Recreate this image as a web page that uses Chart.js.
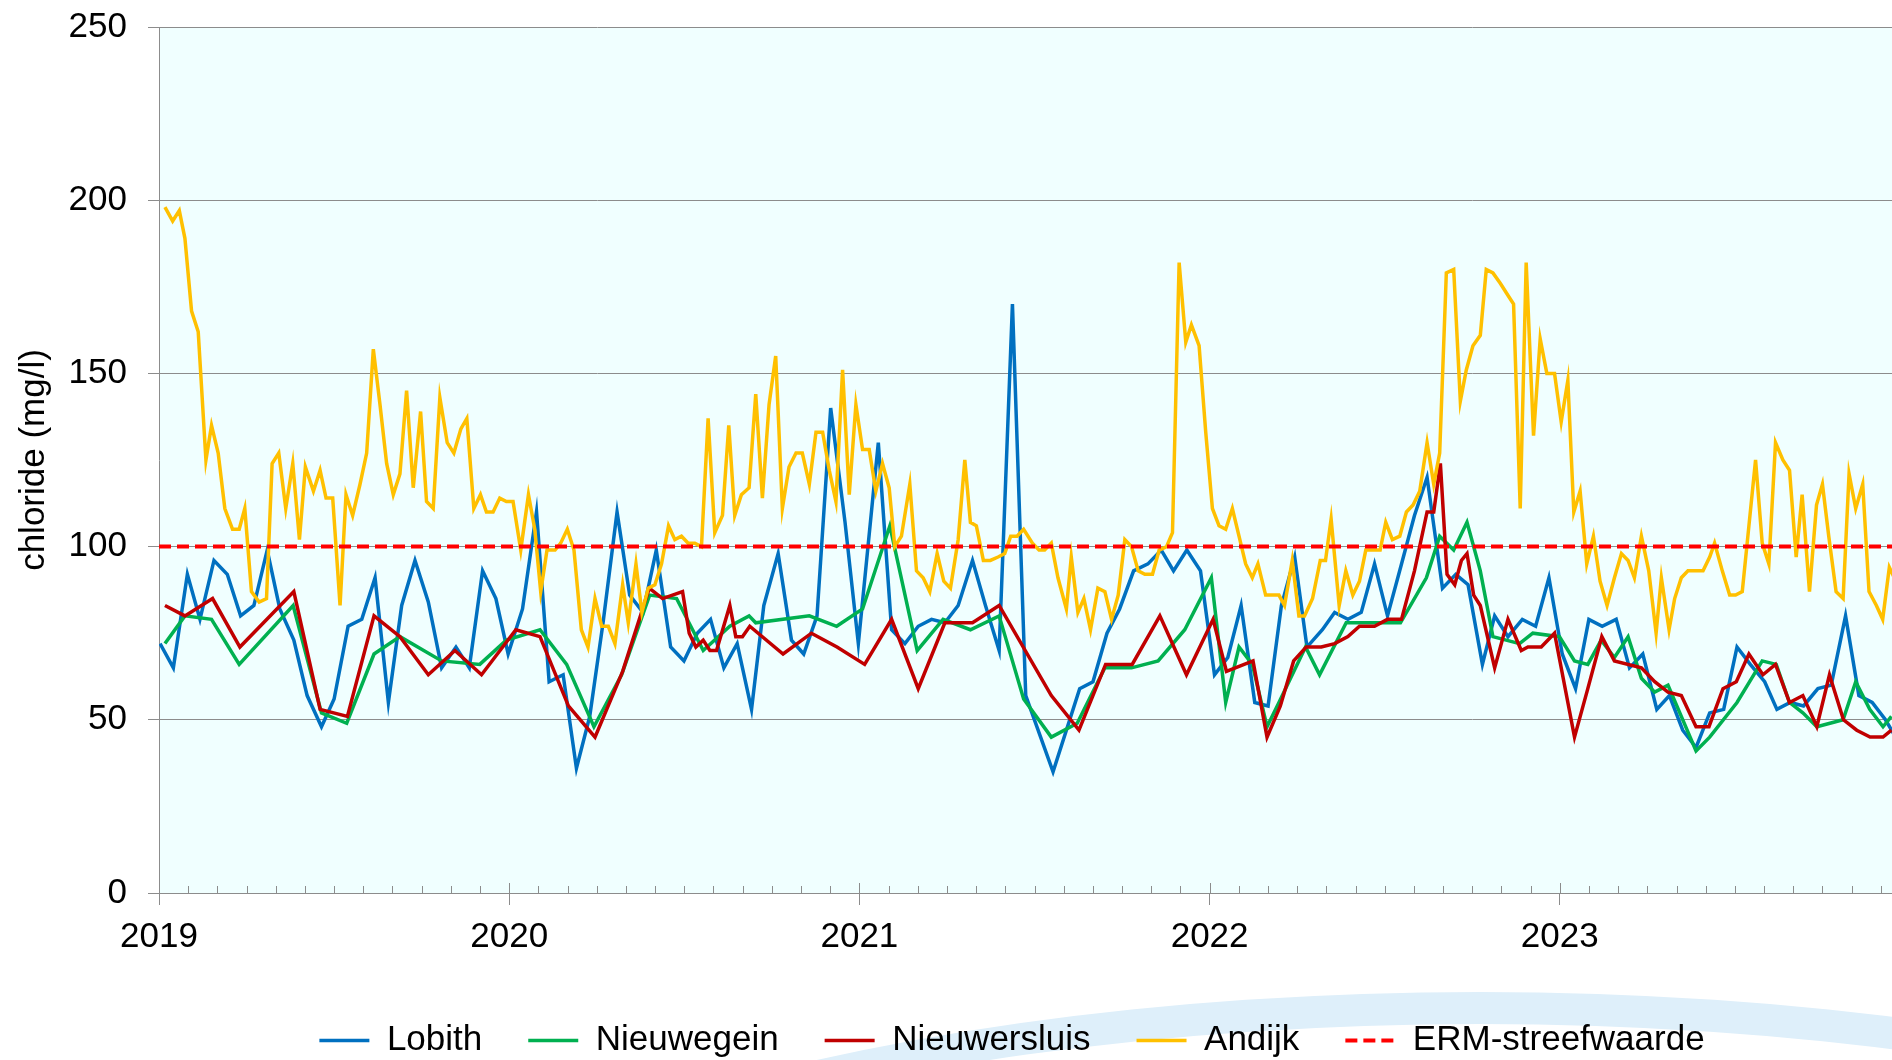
<!DOCTYPE html>
<html>
<head>
<meta charset="utf-8">
<title>chloride</title>
<script src="https://cdn.jsdelivr.net/npm/chart.js@4.4.1/dist/chart.umd.min.js"></script>
<style>
html, body { margin: 0; padding: 0; background: #fff; overflow: hidden; }
#wrap { width: 2022px; height: 1060px; position: relative; }
</style>
</head>
<body>
<div id="wrap"><canvas id="myChart"></canvas></div>
<script>
// sample dates as decimal years, values in mg/l
const lobithDates = [
    2019.003, 2019.041, 2019.081, 2019.117, 2019.157, 2019.195, 2019.233, 2019.271, 2019.309, 2019.345,
    2019.385, 2019.423, 2019.464, 2019.500, 2019.540, 2019.579, 2019.617, 2019.655, 2019.693, 2019.731,
    2019.769, 2019.807, 2019.848, 2019.886, 2019.924, 2019.962, 2019.997, 2020.038, 2020.078, 2020.114,
    2020.154, 2020.192, 2020.230, 2020.268, 2020.308, 2020.344, 2020.382, 2020.420, 2020.461, 2020.499,
    2020.537, 2020.575, 2020.613, 2020.651, 2020.692, 2020.727, 2020.768, 2020.806, 2020.841, 2020.879,
    2020.918, 2020.959, 2020.997, 2021.054, 2021.092, 2021.130, 2021.168, 2021.206, 2021.244, 2021.282,
    2021.323, 2021.360, 2021.399, 2021.437, 2021.475, 2021.553, 2021.629, 2021.667, 2021.707, 2021.743,
    2021.783, 2021.824, 2021.862, 2021.897, 2021.935, 2021.974, 2022.014, 2022.052, 2022.090, 2022.129,
    2022.167, 2022.205, 2022.243, 2022.278, 2022.322, 2022.357, 2022.395, 2022.433, 2022.471, 2022.508,
    2022.548, 2022.585, 2022.621, 2022.665, 2022.703, 2022.738, 2022.779, 2022.814, 2022.852, 2022.893,
    2022.931, 2022.969, 2023.007, 2023.045, 2023.083, 2023.121, 2023.161, 2023.199, 2023.237, 2023.277,
    2023.313, 2023.351, 2023.389, 2023.428, 2023.468, 2023.506, 2023.544, 2023.585, 2023.620, 2023.658,
    2023.696, 2023.737, 2023.775, 2023.816, 2023.854, 2023.892, 2023.930, 2023.965
];
const lobithValues = [
    72, 65, 92, 79, 96, 92, 80, 83, 99, 82,
    73, 57, 48, 56, 77, 79, 91, 55, 83, 96,
    84, 65, 71, 65, 93, 85, 69, 82, 110, 61,
    63, 36, 51, 78, 110, 86, 81, 99, 71, 67,
    75, 79, 65, 72, 53, 83, 98, 73, 69, 80,
    140, 107, 72, 130, 76, 72, 77, 79, 78, 83,
    96, 83, 70, 170, 57, 35, 59, 61, 75, 82,
    93, 95, 99, 93, 99, 93, 63, 68, 83, 55,
    54, 83, 97, 71, 76, 81, 79, 81, 95, 80,
    95, 109, 120, 88, 92, 89, 66, 80, 74, 79,
    77, 91, 69, 59, 79, 77, 79, 65, 69, 53,
    57, 47, 42, 52, 53, 71, 66, 61, 53, 55,
    54, 59, 60, 80, 57, 55, 50, 44
];

const nieuwegeinDates = [
    2019.017, 2019.074, 2019.150, 2019.229, 2019.383, 2019.464, 2019.536, 2019.614, 2019.688, 2019.807, 2019.916, 2019.992,
    2020.088, 2020.164, 2020.242, 2020.321, 2020.401, 2020.478, 2020.554, 2020.630, 2020.685, 2020.704, 2020.857, 2020.935,
    2021.009, 2021.087, 2021.165, 2021.239, 2021.317, 2021.399, 2021.469, 2021.548, 2021.622, 2021.701, 2021.777, 2021.853, 2021.929,
    2022.005, 2022.046, 2022.084, 2022.122, 2022.164, 2022.198, 2022.274, 2022.314, 2022.390, 2022.466, 2022.545,
    2022.619, 2022.657, 2022.697, 2022.735, 2022.773, 2022.809, 2022.847, 2022.885, 2022.923, 2022.999,
    2023.042, 2023.080, 2023.118, 2023.156, 2023.195, 2023.233, 2023.271, 2023.309, 2023.389, 2023.428, 2023.506,
    2023.578, 2023.618, 2023.656, 2023.694, 2023.734, 2023.809, 2023.845, 2023.885, 2023.923, 2023.947
];
const nieuwegeinValues = [
    72, 80, 79, 66, 83, 52, 49, 69, 74, 67, 66, 73,
    76, 66, 48, 63, 86, 85, 70, 77, 80, 78, 80, 77,
    82, 106, 70, 79, 76, 80, 56, 45, 49, 65, 65, 67, 76,
    91, 55, 71, 66, 48, 55, 71, 63, 78, 78, 78,
    91, 103, 99, 107, 93, 74, 73, 72, 75, 74,
    67, 66, 73, 68, 74, 62, 58, 60, 41, 45, 55,
    67, 66, 55, 52, 48, 50, 61, 53, 48, 51
];

const nieuwersluisDates = [
    2019.017, 2019.074, 2019.153, 2019.231, 2019.385, 2019.460, 2019.538, 2019.614, 2019.688, 2019.769, 2019.845, 2019.921,
    2020.019, 2020.088, 2020.169, 2020.245, 2020.324, 2020.400, 2020.438, 2020.495, 2020.514, 2020.533, 2020.554, 2020.573,
    2020.592, 2020.630, 2020.647, 2020.666, 2020.687, 2020.782, 2020.863, 2020.936,
    2021.015, 2021.092, 2021.168, 2021.244, 2021.323, 2021.399, 2021.548, 2021.627, 2021.703, 2021.779, 2021.858, 2021.934,
    2022.010, 2022.048, 2022.124, 2022.164, 2022.202, 2022.240, 2022.276, 2022.319, 2022.357, 2022.395, 2022.428, 2022.471,
    2022.508, 2022.548, 2022.585, 2022.621, 2022.640, 2022.659, 2022.678, 2022.700, 2022.719, 2022.735, 2022.754, 2022.773,
    2022.814, 2022.852, 2022.890, 2022.909, 2022.928, 2022.947, 2022.985,
    2023.042, 2023.080, 2023.120, 2023.156, 2023.233, 2023.271, 2023.309, 2023.347, 2023.389, 2023.426, 2023.466, 2023.504,
    2023.540, 2023.580, 2023.616, 2023.656, 2023.694, 2023.734, 2023.770, 2023.810, 2023.848, 2023.886, 2023.923, 2023.947
];
const nieuwersluisValues = [
    83, 80, 85, 71, 87, 53, 51, 80, 74, 63, 70, 63,
    76, 74, 54, 45, 64, 88, 85, 87, 75, 71, 73, 70,
    70, 83, 74, 74, 77, 69, 75, 71,
    66, 79, 59, 78, 78, 83, 57, 47, 66, 66, 80, 63,
    79, 64, 67, 45, 54, 67, 71, 71, 72, 74, 77, 77,
    79, 79, 93, 110, 110, 124, 92, 89, 96, 98, 86, 83,
    65, 79, 70, 71, 71, 71, 75,
    45, 59, 74, 67, 65, 61, 58, 57, 48, 48, 59, 61,
    69, 63, 66, 55, 57, 48, 63, 50, 47, 45, 45, 47
];

const andijkDates = [
    2019.017, 2019.039, 2019.058, 2019.074, 2019.093, 2019.112, 2019.134, 2019.150, 2019.169, 2019.188,
    2019.210, 2019.229, 2019.245, 2019.264, 2019.286, 2019.307, 2019.323, 2019.342, 2019.362, 2019.382,
    2019.401, 2019.418, 2019.441, 2019.460, 2019.477, 2019.496, 2019.517, 2019.534, 2019.553, 2019.574,
    2019.593, 2019.612, 2019.631, 2019.650, 2019.669, 2019.688, 2019.707, 2019.726, 2019.747, 2019.764,
    2019.783, 2019.802, 2019.823, 2019.842, 2019.862, 2019.879, 2019.899, 2019.918, 2019.935, 2019.954,
    2019.973, 2019.992,
    2020.011, 2020.033, 2020.055, 2020.073, 2020.090, 2020.108, 2020.131, 2020.147, 2020.166, 2020.185,
    2020.206, 2020.225, 2020.245, 2020.264, 2020.283, 2020.302, 2020.324, 2020.340, 2020.362, 2020.379,
    2020.397, 2020.416, 2020.435, 2020.455, 2020.473, 2020.492, 2020.511, 2020.530, 2020.549, 2020.568,
    2020.587, 2020.609, 2020.627, 2020.644, 2020.663, 2020.685, 2020.704, 2020.723, 2020.742, 2020.761,
    2020.780, 2020.799, 2020.819, 2020.837, 2020.857, 2020.876, 2020.895, 2020.914, 2020.933, 2020.952,
    2020.971, 2020.990,
    2021.009, 2021.028, 2021.047, 2021.066, 2021.085, 2021.101, 2021.120, 2021.144, 2021.163, 2021.182,
    2021.201, 2021.222, 2021.241, 2021.260, 2021.282, 2021.301, 2021.317, 2021.334, 2021.354, 2021.374,
    2021.396, 2021.415, 2021.432, 2021.450, 2021.469, 2021.494, 2021.513, 2021.529, 2021.548, 2021.567,
    2021.591, 2021.605, 2021.624, 2021.641, 2021.660, 2021.681, 2021.701, 2021.720, 2021.739, 2021.758,
    2021.777, 2021.796, 2021.815, 2021.837, 2021.856, 2021.877, 2021.894, 2021.913, 2021.932, 2021.948,
    2021.970, 2021.989,
    2022.008, 2022.027, 2022.046, 2022.065, 2022.084, 2022.103, 2022.122, 2022.138, 2022.160, 2022.179,
    2022.198, 2022.214, 2022.236, 2022.255, 2022.271, 2022.294, 2022.316, 2022.331, 2022.347, 2022.370,
    2022.389, 2022.409, 2022.428, 2022.446, 2022.466, 2022.487, 2022.503, 2022.522, 2022.543, 2022.562,
    2022.581, 2022.600, 2022.621, 2022.640, 2022.657, 2022.676, 2022.697, 2022.716, 2022.733, 2022.752,
    2022.773, 2022.790, 2022.809, 2022.830, 2022.849, 2022.868, 2022.887, 2022.904, 2022.925, 2022.944,
    2022.963, 2022.985,
    2023.004, 2023.023, 2023.040, 2023.058, 2023.077, 2023.096, 2023.115, 2023.135, 2023.156, 2023.176,
    2023.195, 2023.213, 2023.233, 2023.254, 2023.275, 2023.290, 2023.312, 2023.328, 2023.347, 2023.366,
    2023.388, 2023.409, 2023.428, 2023.442, 2023.464, 2023.485, 2023.502, 2023.521, 2023.540, 2023.559,
    2023.578, 2023.597, 2023.616, 2023.637, 2023.656, 2023.675, 2023.692, 2023.713, 2023.733, 2023.750,
    2023.768, 2023.789, 2023.809, 2023.826, 2023.845, 2023.865, 2023.883, 2023.904, 2023.922, 2023.941,
    2023.960
];
const andijkValues = [
    198, 194, 197, 189, 168, 162, 125, 135, 127, 111,
    105, 105, 111, 87, 84, 85, 124, 127, 111, 124,
    102, 123, 116, 122, 114, 114, 83, 115, 109, 118,
    127, 157, 141, 124, 115, 121, 145, 117, 139, 113,
    111, 143, 130, 127, 134, 137, 111, 115, 110, 110,
    114, 113,
    113, 99, 115, 105, 87, 99, 99, 101, 105, 99,
    76, 71, 85, 77, 77, 72, 89, 78, 95, 81,
    88, 89, 95, 106, 102, 103, 101, 101, 100, 137,
    104, 109, 135, 109, 115, 117, 144, 114, 141, 155,
    111, 123, 127, 127, 118, 133, 133, 122, 113, 151,
    115, 141,
    128, 128, 116, 124, 117, 100, 103, 118, 93, 91,
    87, 98, 90, 88, 102, 125, 107, 106, 96, 96,
    97, 98, 103, 103, 105, 101, 99, 99, 101, 91,
    82, 97, 81, 85, 76, 88, 87, 79, 86, 102,
    100, 93, 92, 92, 99, 100, 104, 182, 159, 164,
    158, 133,
    111, 106, 105, 111, 103, 95, 91, 95, 86, 86,
    86, 83, 96, 80, 80, 85, 96, 96, 108, 83,
    93, 86, 90, 99, 99, 99, 107, 102, 103, 110,
    112, 116, 130, 118, 127, 179, 180, 142, 151, 158,
    161, 180, 179, 176, 173, 170, 111, 182, 132, 160,
    150, 150,
    136, 148, 110, 116, 95, 103, 90, 83, 91, 98,
    96, 91, 103, 93, 75, 91, 76, 85, 91, 93,
    93, 93, 97, 101, 93, 86, 86, 87, 106, 125,
    101, 95, 130, 125, 122, 97, 115, 87, 112, 118,
    103, 87, 85, 121, 111, 118, 87, 83, 79, 94,
    90
];

const ermValue = 100;
const yearTicks = [2019, 2020, 2021, 2022, 2023];
const xStart = 2019;
const xEnd = 2024;

function points(dates, values) {
    return dates.map((d, i) => ({ x: d, y: values[i] }));
}

Chart.defaults.font.family = "'Liberation Sans', Arial, sans-serif";
Chart.defaults.color = '#000';

const gridColor = '#8c8c8c';

// light background of the plot area plus the faint swoosh behind the legend
const backdrop = {
    id: 'backdrop',
    beforeDraw(chart) {
        const { ctx, chartArea: a } = chart;
        ctx.save();
        ctx.fillStyle = '#deeffa';
        ctx.beginPath();
        ctx.ellipse(1480, 1400, 1200, 408, 0, 0, Math.PI * 2);
        ctx.ellipse(1480, 1422, 1180, 398, 0, 0, Math.PI * 2);
        ctx.fill('evenodd');
        ctx.fillStyle = '#f0ffff';
        ctx.fillRect(a.left, a.top, a.right - a.left, a.bottom - a.top);
        ctx.restore();
    }
};

// small month ticks pointing up from the time axis
const monthTicks = {
    id: 'monthTicks',
    afterDatasetsDraw(chart) {
        const { ctx, chartArea: a, scales: { x } } = chart;
        ctx.save();
        ctx.strokeStyle = gridColor;
        ctx.lineWidth = 1;
        ctx.beginPath();
        for (let m = 1; m < (xEnd - xStart) * 12; m++) {
            const px = Math.round(x.getPixelForValue(xStart + m / 12)) + 0.5;
            const len = m % 12 === 0 ? 10 : 7;
            ctx.moveTo(px, a.bottom);
            ctx.lineTo(px, a.bottom - len);
        }
        ctx.stroke();
        ctx.restore();
    }
};

// the legend sits a bit right of the canvas centre in the original
const legendShift = {
    id: 'legendShift',
    afterLayout(chart) {
        const lg = chart.legend;
        lg.left += 57;
        lg.right += 57;
        lg.top += 8;
        lg.bottom += 8;
    }
};

let data = {
    datasets: [
        { label: 'Lobith', data: points(lobithDates, lobithValues), borderColor: '#0070c0', order: 5 },
        { label: 'Nieuwegein', data: points(nieuwegeinDates, nieuwegeinValues), borderColor: '#00b050', order: 4 },
        { label: 'Nieuwersluis', data: points(nieuwersluisDates, nieuwersluisValues), borderColor: '#c00000', order: 3 },
        { label: 'Andijk', data: points(andijkDates, andijkValues), borderColor: '#ffc000', order: 2 },
        {
            label: 'ERM-streefwaarde',
            data: [{ x: xStart, y: ermValue }, { x: xEnd, y: ermValue }],
            borderColor: '#ff0000',
            borderWidth: 4,
            borderDash: [12, 6],
            order: 1
        }
    ]
};

let config = {
    type: 'line',
    data: data,
    options: {
        responsive: true,
        maintainAspectRatio: false,
        animation: false,
        events: [],
        layout: { padding: { top: 27, left: 0, right: 112, bottom: 0 } },
        elements: {
            line: { borderWidth: 3.5, tension: 0, fill: false },
            point: { radius: 0 }
        },
        scales: {
            x: {
                type: 'linear',
                min: xStart,
                max: xEnd,
                afterBuildTicks(scale) {
                    scale.ticks = yearTicks.concat([xEnd]).map(v => ({ value: v }));
                },
                ticks: {
                    autoSkip: false,
                    maxRotation: 0,
                    padding: 11,
                    font: { size: 35 },
                    callback: v => yearTicks.includes(v) ? String(v) : ''
                },
                grid: { drawOnChartArea: false, tickLength: 12, color: gridColor },
                border: { color: gridColor },
                afterFit(scale) { scale.height = 76; }
            },
            y: {
                min: 0,
                max: 250,
                ticks: { stepSize: 50, padding: 21, font: { size: 35 } },
                grid: { color: gridColor, tickLength: 11 },
                border: { color: gridColor },
                title: {
                    display: true,
                    text: 'chloride (mg/l)',
                    font: { size: 35 },
                    padding: { top: 13, bottom: 0 }
                },
                afterFit(scale) {
                    scale.width = 159;
                    scale.paddingTop = 21;
                    scale.paddingBottom = 21;
                }
            }
        },
        plugins: {
            tooltip: { enabled: false },
            legend: {
                position: 'bottom',
                labels: {
                    usePointStyle: true,
                    pointStyle: 'line',
                    pointStyleWidth: 50,
                    padding: 46,
                    font: { size: 35 },
                    sort: (a, b) => a.datasetIndex - b.datasetIndex,
                    generateLabels(chart) {
                        const items = Chart.defaults.plugins.legend.labels.generateLabels(chart);
                        items.forEach(item => {
                            const ds = chart.data.datasets[item.datasetIndex];
                            item.pointStyle = 'line';
                            item.strokeStyle = ds.borderColor;
                            item.fillStyle = ds.borderColor;
                            item.lineWidth = ds.borderWidth || 3.5;
                            item.lineDash = ds.borderDash || [];
                        });
                        return items;
                    }
                }
            }
        }
    },
    plugins: [backdrop, monthTicks, legendShift]
};

let myChart = new Chart(document.getElementById('myChart'), config);
</script>
</body>
</html>
